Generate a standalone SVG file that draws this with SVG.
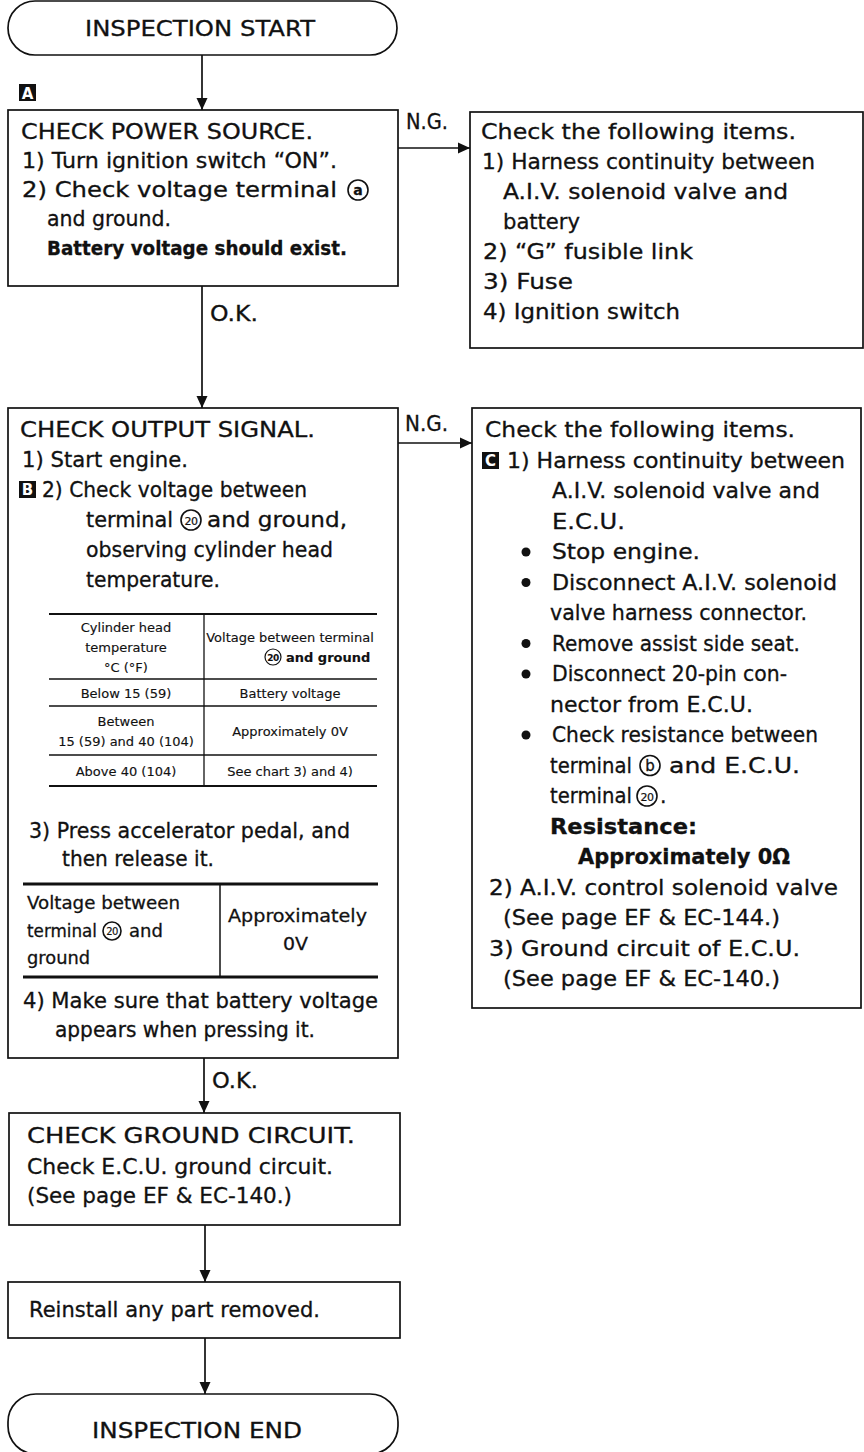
<svg xmlns="http://www.w3.org/2000/svg" width="864" height="1452" viewBox="0 0 864 1452">
<defs>
<style>
.t{font-family:"DejaVu Sans","Liberation Sans",sans-serif;font-size:20.5px;fill:#111;stroke:#111;stroke-width:0.3}
.b{font-weight:bold}
.s{font-size:13px;stroke-width:0.15}
.m{font-size:18px}
.c{text-anchor:middle}
.box{fill:#fff;stroke:#111;stroke-width:1.7}
.ln{fill:none;stroke:#111;stroke-width:1.7}
.tl{stroke:#111;stroke-width:1.3}
.tk{stroke:#111;stroke-width:3.2}
.ring{fill:none;stroke:#111;stroke-width:1.6}
.mk{fill:#111}
.mkt{font-family:"DejaVu Sans",sans-serif;font-size:15px;font-weight:bold;fill:#fff;text-anchor:middle}
.blt{fill:#111}
</style>
<marker id="ah" markerWidth="12" markerHeight="12" refX="12" refY="6" orient="auto" markerUnits="userSpaceOnUse"><path d="M0,0.5 L12,6 L0,11.5 z" fill="#111"/></marker>
</defs>
<rect width="864" height="1452" fill="#fff"/>

<g id="connectors">
<path class="ln" d="M202,55 V110" marker-end="url(#ah)"/>
<path class="ln" d="M398,148 H470" marker-end="url(#ah)"/>
<path class="ln" d="M202,286 V408" marker-end="url(#ah)"/>
<path class="ln" d="M398,443 H472" marker-end="url(#ah)"/>
<path class="ln" d="M204,1058 V1113" marker-end="url(#ah)"/>
<path class="ln" d="M205,1225 V1282" marker-end="url(#ah)"/>
<path class="ln" d="M205,1338 V1394" marker-end="url(#ah)"/>
<text class="t" x="406" y="129" textLength="42" lengthAdjust="spacingAndGlyphs">N.G.</text>
<text class="t" x="405" y="431" textLength="43" lengthAdjust="spacingAndGlyphs">N.G.</text>
<text class="t" x="210" y="321" textLength="48" lengthAdjust="spacingAndGlyphs">O.K.</text>
<text class="t" x="212" y="1088" textLength="46" lengthAdjust="spacingAndGlyphs">O.K.</text>
</g>

<g id="n-start">
<rect class="box" x="8" y="1" width="389" height="54" rx="27"/>
<text class="t" x="85" y="36" textLength="230" lengthAdjust="spacingAndGlyphs" style="font-size:21px">INSPECTION START</text>
</g>

<g id="marker-a">
<rect class="mk" x="19" y="84" width="17" height="17"/>
<text class="mkt" x="27.5" y="98.5">A</text>
</g>

<g id="n-power">
<rect class="box" x="8" y="110" width="390" height="176"/>
<text class="t" x="21" y="139" textLength="292" lengthAdjust="spacingAndGlyphs">CHECK POWER SOURCE.</text>
<text class="t" x="22" y="168" textLength="315" lengthAdjust="spacingAndGlyphs">1) Turn ignition switch “ON”.</text>
<text class="t" x="22" y="197" textLength="315" lengthAdjust="spacingAndGlyphs">2) Check voltage terminal</text>
<circle class="ring" cx="358" cy="190" r="10"/>
<text class="t b c" x="358" y="195" style="font-size:14px">a</text>
<text class="t" x="47" y="226" textLength="124" lengthAdjust="spacingAndGlyphs">and ground.</text>
<text class="t b" x="47" y="255" textLength="300" lengthAdjust="spacingAndGlyphs" style="font-size:19px">Battery voltage should exist.</text>
</g>

<g id="n-ng1">
<rect class="box" x="470" y="112" width="393" height="236"/>
<text class="t" x="481" y="139" textLength="315" lengthAdjust="spacingAndGlyphs">Check the following items.</text>
<text class="t" x="482" y="169" textLength="333" lengthAdjust="spacingAndGlyphs">1) Harness continuity between</text>
<text class="t" x="503" y="199" textLength="285" lengthAdjust="spacingAndGlyphs">A.I.V. solenoid valve and</text>
<text class="t" x="503" y="229" textLength="77" lengthAdjust="spacingAndGlyphs">battery</text>
<text class="t" x="483" y="259" textLength="210" lengthAdjust="spacingAndGlyphs">2) “G” fusible link</text>
<text class="t" x="483" y="289" textLength="90" lengthAdjust="spacingAndGlyphs">3) Fuse</text>
<text class="t" x="483" y="319" textLength="197" lengthAdjust="spacingAndGlyphs">4) Ignition switch</text>
</g>

<g id="n-output">
<rect class="box" x="8" y="408" width="390" height="650"/>
<text class="t" x="20" y="437" textLength="295" lengthAdjust="spacingAndGlyphs">CHECK OUTPUT SIGNAL.</text>
<text class="t" x="22" y="467" textLength="166" lengthAdjust="spacingAndGlyphs">1) Start engine.</text>
<rect class="mk" x="19" y="481" width="17" height="17"/>
<text class="mkt" x="27.5" y="495">B</text>
<text class="t" x="42" y="497" textLength="265" lengthAdjust="spacingAndGlyphs">2) Check voltage between</text>
<text class="t" x="86" y="527" textLength="87" lengthAdjust="spacingAndGlyphs">terminal</text>
<circle class="ring" cx="191" cy="520" r="10"/>
<text class="t c" x="191" y="524.5" style="font-size:11px;letter-spacing:-0.5px;stroke-width:0.2">20</text>
<text class="t" x="207" y="527" textLength="140" lengthAdjust="spacingAndGlyphs">and ground,</text>
<text class="t" x="86" y="557" textLength="247" lengthAdjust="spacingAndGlyphs">observing cylinder head</text>
<text class="t" x="86" y="587" textLength="134" lengthAdjust="spacingAndGlyphs">temperature.</text>
<g id="table-1">
<line class="tl" x1="49" y1="614" x2="377" y2="614" style="stroke-width:2.2"/>
<line class="tl" x1="49" y1="679" x2="377" y2="679"/>
<line class="tl" x1="49" y1="706" x2="377" y2="706"/>
<line class="tl" x1="49" y1="755" x2="377" y2="755"/>
<line class="tl" x1="49" y1="786" x2="377" y2="786" style="stroke-width:2.2"/>
<line class="tl" x1="204" y1="614" x2="204" y2="786"/>
<text class="t s c" x="126" y="632">Cylinder head</text>
<text class="t s c" x="126" y="652">temperature</text>
<text class="t s c" x="126" y="672">°C (°F)</text>
<text class="t s c" x="290" y="642">Voltage between terminal</text>
<circle class="ring" cx="273" cy="657" r="8" style="stroke-width:1.2"/>
<text class="t c" x="273" y="660.5" style="font-size:9px;font-weight:bold;letter-spacing:-0.5px;stroke-width:0.1">20</text>
<text class="t s b" x="286" y="662">and ground</text>
<text class="t s c" x="126" y="698">Below 15 (59)</text>
<text class="t s c" x="290" y="698">Battery voltage</text>
<text class="t s c" x="126" y="726">Between</text>
<text class="t s c" x="126" y="746">15 (59) and 40 (104)</text>
<text class="t s c" x="290" y="736">Approximately 0V</text>
<text class="t s c" x="126" y="776">Above 40 (104)</text>
<text class="t s c" x="290" y="776">See chart 3) and 4)</text>
</g>
<text class="t" x="29" y="838" textLength="321" lengthAdjust="spacingAndGlyphs">3) Press accelerator pedal, and</text>
<text class="t" x="62" y="866" textLength="152" lengthAdjust="spacingAndGlyphs">then release it.</text>
<g id="table-2">
<line class="tk" x1="23" y1="884" x2="378" y2="884"/>
<line class="tk" x1="23" y1="977" x2="378" y2="977"/>
<line class="tl" x1="220" y1="884" x2="220" y2="977" style="stroke-width:1.5"/>
<text class="t m" x="27" y="909" textLength="153" lengthAdjust="spacingAndGlyphs">Voltage between</text>
<text class="t m" x="27" y="937" textLength="70" lengthAdjust="spacingAndGlyphs">terminal</text>
<circle class="ring" cx="112" cy="931" r="9"/>
<text class="t c" x="112" y="935" style="font-size:10px;letter-spacing:-0.5px;stroke-width:0.15">20</text>
<text class="t m" x="129" y="937">and</text>
<text class="t m" x="27" y="964" textLength="63" lengthAdjust="spacingAndGlyphs">ground</text>
<text class="t m" x="228" y="922" textLength="139" lengthAdjust="spacingAndGlyphs">Approximately</text>
<text class="t m" x="283" y="950" textLength="25" lengthAdjust="spacingAndGlyphs">0V</text>
</g>
<text class="t" x="23" y="1008" textLength="355" lengthAdjust="spacingAndGlyphs">4) Make sure that battery voltage</text>
<text class="t" x="55" y="1037" textLength="260" lengthAdjust="spacingAndGlyphs">appears when pressing it.</text>
</g>

<g id="n-ng2">
<rect class="box" x="472" y="408" width="389" height="600"/>
<text class="t" x="485" y="437" textLength="310" lengthAdjust="spacingAndGlyphs">Check the following items.</text>
<rect class="mk" x="482" y="452" width="17" height="17"/>
<text class="mkt" x="490.5" y="466">C</text>
<text class="t" x="507" y="467.5" textLength="338" lengthAdjust="spacingAndGlyphs">1) Harness continuity between</text>
<text class="t" x="552" y="498" textLength="268" lengthAdjust="spacingAndGlyphs">A.I.V. solenoid valve and</text>
<text class="t" x="552" y="528.5" textLength="73" lengthAdjust="spacingAndGlyphs">E.C.U.</text>
<circle class="blt" cx="526" cy="552" r="4.5"/>
<text class="t" x="552" y="559" textLength="148" lengthAdjust="spacingAndGlyphs">Stop engine.</text>
<circle class="blt" cx="526" cy="582.5" r="4.5"/>
<text class="t" x="552" y="589.5" textLength="285" lengthAdjust="spacingAndGlyphs">Disconnect A.I.V. solenoid</text>
<text class="t" x="550" y="620" textLength="257" lengthAdjust="spacingAndGlyphs">valve harness connector.</text>
<circle class="blt" cx="526" cy="643.5" r="4.5"/>
<text class="t" x="552" y="650.5" textLength="248" lengthAdjust="spacingAndGlyphs">Remove assist side seat.</text>
<circle class="blt" cx="526" cy="674" r="4.5"/>
<text class="t" x="552" y="681" textLength="235" lengthAdjust="spacingAndGlyphs">Disconnect 20-pin con-</text>
<text class="t" x="550" y="711.5" textLength="203" lengthAdjust="spacingAndGlyphs">nector from E.C.U.</text>
<circle class="blt" cx="526" cy="735" r="4.5"/>
<text class="t" x="552" y="742" textLength="266" lengthAdjust="spacingAndGlyphs">Check resistance between</text>
<text class="t" x="550" y="772.5" textLength="82" lengthAdjust="spacingAndGlyphs">terminal</text>
<circle class="ring" cx="650" cy="765.5" r="10"/>
<text class="t c" x="650" y="770.5" style="font-size:15px">b</text>
<text class="t" x="669" y="772.5" textLength="131" lengthAdjust="spacingAndGlyphs">and E.C.U.</text>
<text class="t" x="550" y="803" textLength="82" lengthAdjust="spacingAndGlyphs">terminal</text>
<circle class="ring" cx="647" cy="796" r="10"/>
<text class="t c" x="647" y="800.5" style="font-size:11px;letter-spacing:-0.5px;stroke-width:0.2">20</text>
<text class="t" x="660" y="803">.</text>
<text class="t b" x="550" y="833.5" textLength="147" lengthAdjust="spacingAndGlyphs">Resistance:</text>
<text class="t b" x="578" y="864" textLength="212" lengthAdjust="spacingAndGlyphs">Approximately 0Ω</text>
<text class="t" x="489" y="894.5" textLength="349" lengthAdjust="spacingAndGlyphs">2) A.I.V. control solenoid valve</text>
<text class="t" x="503" y="925" textLength="277" lengthAdjust="spacingAndGlyphs">(See page EF &amp; EC-144.)</text>
<text class="t" x="489" y="955.5" textLength="311" lengthAdjust="spacingAndGlyphs">3) Ground circuit of E.C.U.</text>
<text class="t" x="503" y="986" textLength="277" lengthAdjust="spacingAndGlyphs">(See page EF &amp; EC-140.)</text>
</g>

<g id="n-ground">
<rect class="box" x="9" y="1113" width="391" height="112"/>
<text class="t" x="27" y="1143" textLength="328" lengthAdjust="spacingAndGlyphs">CHECK  GROUND  CIRCUIT.</text>
<text class="t" x="27" y="1174" textLength="306" lengthAdjust="spacingAndGlyphs">Check E.C.U. ground circuit.</text>
<text class="t" x="27" y="1203" textLength="265" lengthAdjust="spacingAndGlyphs">(See page EF &amp; EC-140.)</text>
</g>

<g id="n-reinstall">
<rect class="box" x="8" y="1282" width="392" height="56"/>
<text class="t" x="29" y="1317" textLength="291" lengthAdjust="spacingAndGlyphs">Reinstall any part removed.</text>
</g>

<g id="n-end">
<rect class="box" x="8" y="1394" width="390" height="60" rx="28"/>
<text class="t" x="92" y="1438" textLength="210" lengthAdjust="spacingAndGlyphs" style="font-size:21px">INSPECTION  END</text>
</g>
</svg>
